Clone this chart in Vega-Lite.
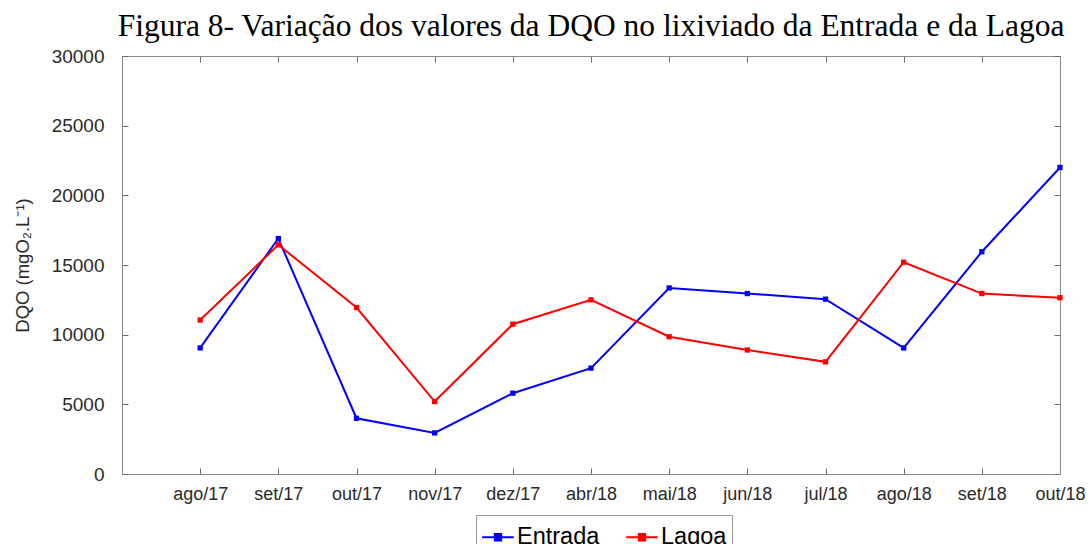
{
  "$schema": "https://vega.github.io/schema/vega-lite/v6.json",
  "autosize": "none",
  "width": 938,
  "height": 418,
  "padding": {"left": 122, "top": 56, "right": 31, "bottom": 70},
  "background": "white",
  "title": {
    "text": "Figura 8- Variação dos valores da DQO no lixiviado da Entrada e da Lagoa",
    "font": "Liberation Serif",
    "fontSize": 31.5,
    "fontWeight": "normal",
    "color": "black",
    "anchor": "middle",
    "offset": 5
  },
  "config": {
    "view": {"stroke": null},
    "axis": {
      "grid": false,
      "domainColor": "#8a8a8a",
      "tickColor": "#6a6a6a",
      "labelFont": "Liberation Sans",
      "labelFontSize": 18,
      "labelColor": "#2a2a2a",
      "titleFont": "Liberation Sans",
      "titleFontSize": 18.5,
      "titleFontWeight": "normal",
      "titleColor": "#2a2a2a"
    }
  },
  "data": {
    "values": [
      {"mes": "ago/17", "serie": "Entrada", "dqo": 9050},
      {"mes": "set/17", "serie": "Entrada", "dqo": 16900},
      {"mes": "out/17", "serie": "Entrada", "dqo": 4000},
      {"mes": "nov/17", "serie": "Entrada", "dqo": 2950},
      {"mes": "dez/17", "serie": "Entrada", "dqo": 5800},
      {"mes": "abr/18", "serie": "Entrada", "dqo": 7600},
      {"mes": "mai/18", "serie": "Entrada", "dqo": 13350},
      {"mes": "jun/18", "serie": "Entrada", "dqo": 12950},
      {"mes": "jul/18", "serie": "Entrada", "dqo": 12550},
      {"mes": "ago/18", "serie": "Entrada", "dqo": 9050},
      {"mes": "set/18", "serie": "Entrada", "dqo": 15950},
      {"mes": "out/18", "serie": "Entrada", "dqo": 22000},
      {"mes": "ago/17", "serie": "Lagoa", "dqo": 11050},
      {"mes": "set/17", "serie": "Lagoa", "dqo": 16450},
      {"mes": "out/17", "serie": "Lagoa", "dqo": 11950},
      {"mes": "nov/17", "serie": "Lagoa", "dqo": 5200},
      {"mes": "dez/17", "serie": "Lagoa", "dqo": 10750},
      {"mes": "abr/18", "serie": "Lagoa", "dqo": 12500},
      {"mes": "mai/18", "serie": "Lagoa", "dqo": 9850},
      {"mes": "jun/18", "serie": "Lagoa", "dqo": 8900},
      {"mes": "jul/18", "serie": "Lagoa", "dqo": 8050},
      {"mes": "ago/18", "serie": "Lagoa", "dqo": 15200},
      {"mes": "set/18", "serie": "Lagoa", "dqo": 12950},
      {"mes": "out/18", "serie": "Lagoa", "dqo": 12650}
    ]
  },
  "layer": [
    {
      "mark": {"type": "point", "opacity": 0},
      "encoding": {
        "x": {"field": "mes", "type": "ordinal", "axis": {"orient": "top", "labels": false, "title": null, "tickSize": -6, "domainColor": "#8a8a8a"}},
        "y": {"field": "dqo", "type": "quantitative", "axis": {"orient": "right", "labels": false, "title": null, "tickSize": -6, "tickCount": 6}}
      }
    },
    {
      "mark": {"type": "line", "strokeWidth": 2, "point": {"shape": "square", "size": 28, "filled": true, "opacity": 1}},
      "encoding": {
        "x": {
          "field": "mes",
          "type": "ordinal",
          "sort": null,
          "scale": {"type": "point", "padding": 0, "domain": [" ", "ago/17", "set/17", "out/17", "nov/17", "dez/17", "abr/18", "mai/18", "jun/18", "jul/18", "ago/18", "set/18", "out/18"]},
          "axis": {"orient": "bottom", "title": null, "labelAngle": 0, "tickSize": -6, "labelPadding": 17}
        },
        "y": {
          "field": "dqo",
          "type": "quantitative",
          "scale": {"domain": [0, 30000], "nice": false},
          "axis": {"orient": "left", "title": "DQO (mgO₂.L⁻¹)", "tickSize": -6, "tickCount": 6, "format": "d", "labelPadding": 24, "labelFontSize": 19, "titlePadding": 19}
        },
        "color": {
          "field": "serie",
          "type": "nominal",
          "scale": {"domain": ["Entrada", "Lagoa"], "range": ["#0000ff", "#ff0000"]},
          "legend": {
            "orient": "none",
            "legendX": 354,
            "legendY": 459,
            "direction": "horizontal",
            "title": null,
            "strokeColor": "#999999",
            "padding": 5,
            "labelFont": "Liberation Sans",
            "labelFontSize": 23.5,
            "labelColor": "black",
            "labelOffset": 2,
            "columnPadding": 22,
            "symbolType": "M-1,0H1M-0.2,-0.2H0.2V0.2H-0.2Z",
            "symbolSize": 1000,
            "symbolStrokeWidth": 2
          }
        }
      }
    }
  ]
}
